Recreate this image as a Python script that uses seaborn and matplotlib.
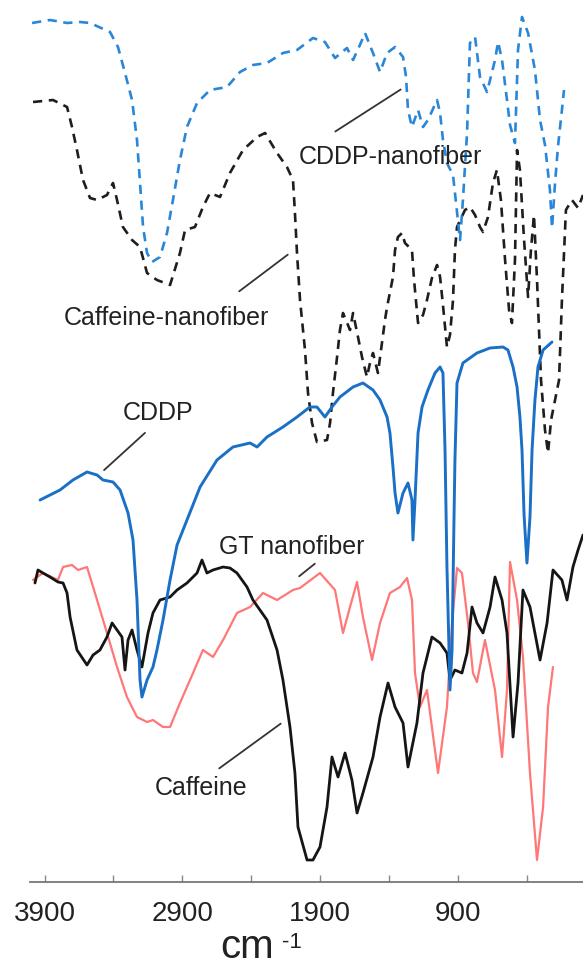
import matplotlib
matplotlib.use("Agg")
import matplotlib.pyplot as plt
import pandas as pd
import seaborn as sns

# ---------------- data (wavenumber in cm-1, transmittance in arbitrary offset units) ----------------
cddp_nf_wn = [3991, 3861, 3737, 3643, 3570, 3425, 3367, 3316, 3265, 3229, 3207, 3185, 3156, 3120, 3062,
              3011, 2968, 2917, 2866, 2793, 2699, 2575, 2481, 2387, 2285, 2169, 2067, 1951, 1864, 1791,
              1704, 1660, 1610, 1573, 1515, 1464, 1413, 1355, 1297, 1275, 1261, 1232, 1188, 1152, 1116,
              1050, 1028, 1007, 978, 934, 883, 862, 832, 811, 774, 738, 687, 665, 629, 607, 578, 542,
              520, 484, 462, 433, 389, 339, 302, 266, 230, 215, 193, 172, 143, 128]
cddp_nf_t = [859, 862, 859, 860, 859, 850, 835, 809, 782, 742, 699, 655, 629, 620, 625,
             649, 682, 722, 755, 779, 792, 795, 810, 817, 819, 829, 832, 844, 840, 824,
             834, 822, 837, 849, 829, 810, 829, 835, 825, 805, 772, 755, 772, 755, 762,
             782, 769, 742, 719, 707, 642, 682, 749, 839, 845, 805, 790, 802, 822, 840, 822, 782,
             757, 739, 832, 865, 849, 812, 762, 737, 692, 654, 699, 735, 772, 792]

caf_nf_wn = [3984, 3839, 3737, 3701, 3665, 3621, 3570, 3519, 3447, 3403, 3374, 3331, 3265, 3207, 3156,
             3084, 2989, 2917, 2880, 2808, 2750, 2699, 2626, 2554, 2459, 2357, 2299, 2212, 2140, 2096,
             2082, 2067, 2045, 2009, 1987, 1958, 1922, 1849, 1827, 1806, 1776, 1755, 1733, 1682, 1660,
             1624, 1595, 1559, 1537, 1515, 1479, 1450, 1428, 1413, 1370, 1355, 1334, 1304, 1283, 1232,
             1217, 1188, 1152, 1123, 1087, 1050, 1028, 1007, 978, 956, 934, 920, 905, 847, 811, 774,
             738, 716, 680, 644, 615, 586, 556, 527, 506, 484, 469, 448, 418, 389, 368, 346, 324, 295,
             266, 244, 222, 193, 164, 143, 114, 70, 26, -10]
caf_nf_t = [780, 782, 775, 755, 732, 702, 684, 682, 687, 699, 682, 655, 642, 635, 609,
            602, 597, 629, 652, 655, 675, 689, 685, 709, 732, 745, 749, 729, 715, 702,
            669, 629, 582, 532, 489, 459, 440, 442, 459, 489, 525, 552, 569, 552, 569,
            545, 525, 505, 519, 529, 509, 539, 562, 575, 605, 632, 645, 649, 639, 632,
            602, 559, 567, 582, 604, 617, 605, 577, 535, 547, 582, 632, 655, 672, 675, 667,
            655, 650, 665, 699, 712, 682, 622, 572, 559, 622, 732, 712, 642, 585, 632, 667, 602, 502,
            452, 429, 462, 482, 502, 582, 672, 682, 674, 687]

cddp_wn = [3933, 3788, 3694, 3592, 3519, 3476, 3403, 3352, 3294, 3258, 3229, 3207, 3193, 3156, 3113,
           3084, 3040, 2989, 2938, 2866, 2771, 2648, 2532, 2408, 2357, 2285, 2169, 2067, 1973, 1922,
           1864, 1813, 1755, 1660, 1588, 1515, 1464, 1413, 1392, 1370, 1355, 1334, 1297, 1261, 1232,
           1225, 1210, 1188, 1159, 1116, 1065, 1028, 1007, 992, 978, 963, 956, 941, 927, 920, 905,
           862, 760, 665, 571, 535, 498, 469, 448, 433, 418, 397, 375, 360, 339, 317, 280, 215]
cddp_t = [382, 392, 402, 410, 407, 402, 400, 392, 369, 342, 282, 202, 185, 202, 215,
          232, 262, 302, 337, 362, 395, 422, 435, 439, 435, 445, 455, 465, 475, 475,
          465, 475, 485, 495, 499, 492, 482, 465, 449, 415, 389, 369, 389, 399, 382,
          342, 382, 449, 475, 492, 509, 515, 509, 432, 315, 232, 192, 232, 362, 422, 499,
          519, 529, 534, 535, 532, 515, 495, 465, 432, 367, 319, 365, 432, 482, 515, 532, 540]

gt_wn = [3984, 3912, 3803, 3766, 3701, 3657, 3592, 3519, 3447, 3374, 3302, 3229, 3156, 3113, 3040,
         2989, 2917, 2844, 2750, 2677, 2604, 2503, 2408, 2314, 2212, 2096, 2045, 1900, 1791, 1733,
         1682, 1631, 1588, 1522, 1464, 1392, 1319, 1268, 1232, 1210, 1174, 1123, 1043, 978, 941,
         905, 869, 825, 789, 760, 702, 629, 578, 542, 520, 469, 426, 375, 324, 280, 244, 208]
gt_t = [302, 309, 302, 315, 317, 312, 315, 282, 249, 215, 185, 165, 160, 162, 155,
        155, 179, 202, 232, 225, 242, 269, 275, 289, 282, 292, 294, 309, 292, 249,
        275, 300, 265, 222, 259, 289, 295, 304, 282, 209, 175, 192, 109, 175, 259,
        314, 309, 259, 209, 200, 242, 192, 125, 192, 320, 282, 225, 109, 22, 75, 175, 215]

caf_wn = [3970, 3948, 3912, 3861, 3803, 3766, 3737, 3715, 3665, 3592, 3548, 3498, 3447, 3410, 3374,
          3338, 3316, 3294, 3265, 3229, 3193, 3149, 3113, 3062, 2989, 2938, 2866, 2793, 2757, 2721,
          2677, 2604, 2554, 2503, 2430, 2387, 2285, 2212, 2169, 2118, 2082, 2060, 1994, 1951, 1900,
          1849, 1813, 1769, 1718, 1668, 1631, 1588, 1515, 1464, 1406, 1355, 1297, 1261, 1196, 1152,
          1087, 1028, 978, 956, 920, 869, 832, 796, 760, 716, 665, 629, 578, 542, 498, 462, 426,
          375, 302, 251, 208, 143, 106, 63, 26, -10]
caf_t = [299, 312, 309, 305, 300, 299, 289, 265, 232, 217, 227, 232, 245, 259, 252,
         245, 212, 242, 252, 232, 215, 249, 269, 282, 285, 292, 299, 309, 322, 309,
         312, 315, 314, 309, 295, 282, 262, 232, 202, 155, 109, 55, 22, 22, 35,
         75, 125, 105, 129, 102, 69, 89, 125, 165, 199, 175, 159, 115, 159, 209,
         245, 239, 229, 202, 212, 209, 229, 275, 259, 249, 275, 305, 282, 249, 145, 199, 292,
         275, 222, 259, 312, 302, 282, 315, 332, 347]

tick_values = [3900, 3400, 2900, 2400, 1900, 1400, 900, 400]
tick_labels = ["3900", "", "2900", "", "1900", "", "900", ""]

labels = ["CDDP-nanofiber", "Caffeine-nanofiber", "CDDP", "GT nanofiber", "Caffeine"]

# ---------------- styling ----------------
sns.set_style("white")
plt.rcParams["font.family"] = ["Liberation Sans", "DejaVu Sans"]

fig = plt.figure(figsize=(5.83, 9.65), dpi=100)
ax = fig.add_axes([30 / 583, 83 / 965, 553 / 583, 882 / 965])


def draw(wn, t, color, lw, ls="-", alpha=1.0):
    df = pd.DataFrame({"wn": wn, "t": t})
    sns.lineplot(data=df, x="wn", y="t", sort=False, estimator=None, ax=ax,
                 color=color, linewidth=lw, linestyle=ls, alpha=alpha)


draw(caf_nf_wn, caf_nf_t, "#1e1e1e", 1.9, (0, (3.5, 2.5)))
draw(cddp_nf_wn, cddp_nf_t, "#2a86d6", 1.9, (0, (3.5, 2.5)))
draw(gt_wn, gt_t, "#ff7777", 1.6)
draw(caf_wn, caf_t, "#151515", 2.0)
draw(cddp_wn, cddp_t, "#1a6fc6", 2.1)

ax.set_xlim(4006, -10)
ax.set_ylim(0, 882)

# labels and leader lines
txt_kw = dict(ha="center", va="center", fontsize=18, color="#222222")
line_kw = dict(arrowstyle="-", color="#333333", lw=1.3)

ax.text(1392, 725, labels[0], **txt_kw)
ax.annotate("", xy=(1297, 794), xytext=(1806, 749), arrowprops=line_kw)

ax.text(3018, 564, labels[1], **txt_kw)
ax.annotate("", xy=(2118, 629), xytext=(2503, 589), arrowprops=line_kw)

ax.text(3076, 469, labels[2], **txt_kw)
ax.annotate("", xy=(3156, 451), xytext=(3483, 410), arrowprops=line_kw)

ax.text(2103, 335, labels[3], **txt_kw)
ax.annotate("", xy=(1922, 320), xytext=(2067, 304), arrowprops=line_kw)

ax.text(2764, 94, labels[4], **txt_kw)
ax.annotate("", xy=(2169, 160), xytext=(2648, 112), arrowprops=line_kw)

# axes
ax.set_xticks(tick_values)
ax.set_xticklabels(tick_labels)
ax.set_yticks([])
ax.tick_params(axis="x", direction="in", length=5, width=1.0, color="#888888",
               labelsize=20, labelcolor="#222222", pad=14, bottom=True)
for s in ["left", "top", "right"]:
    ax.spines[s].set_visible(False)
ax.spines["bottom"].set_color("#777777")
ax.spines["bottom"].set_linewidth(1.3)

ax.set_xlabel("cm", fontsize=29, color="#222222")
ax.set_ylabel("")
ax.xaxis.set_label_coords((247 - 30) / 553, -0.052)
ax.text((292 - 30) / 553, (882 - 943) / 882, "-1", transform=ax.transAxes,
        ha="center", va="center", fontsize=16, color="#222222", clip_on=False)

fig.savefig("out.png", dpi=100)
